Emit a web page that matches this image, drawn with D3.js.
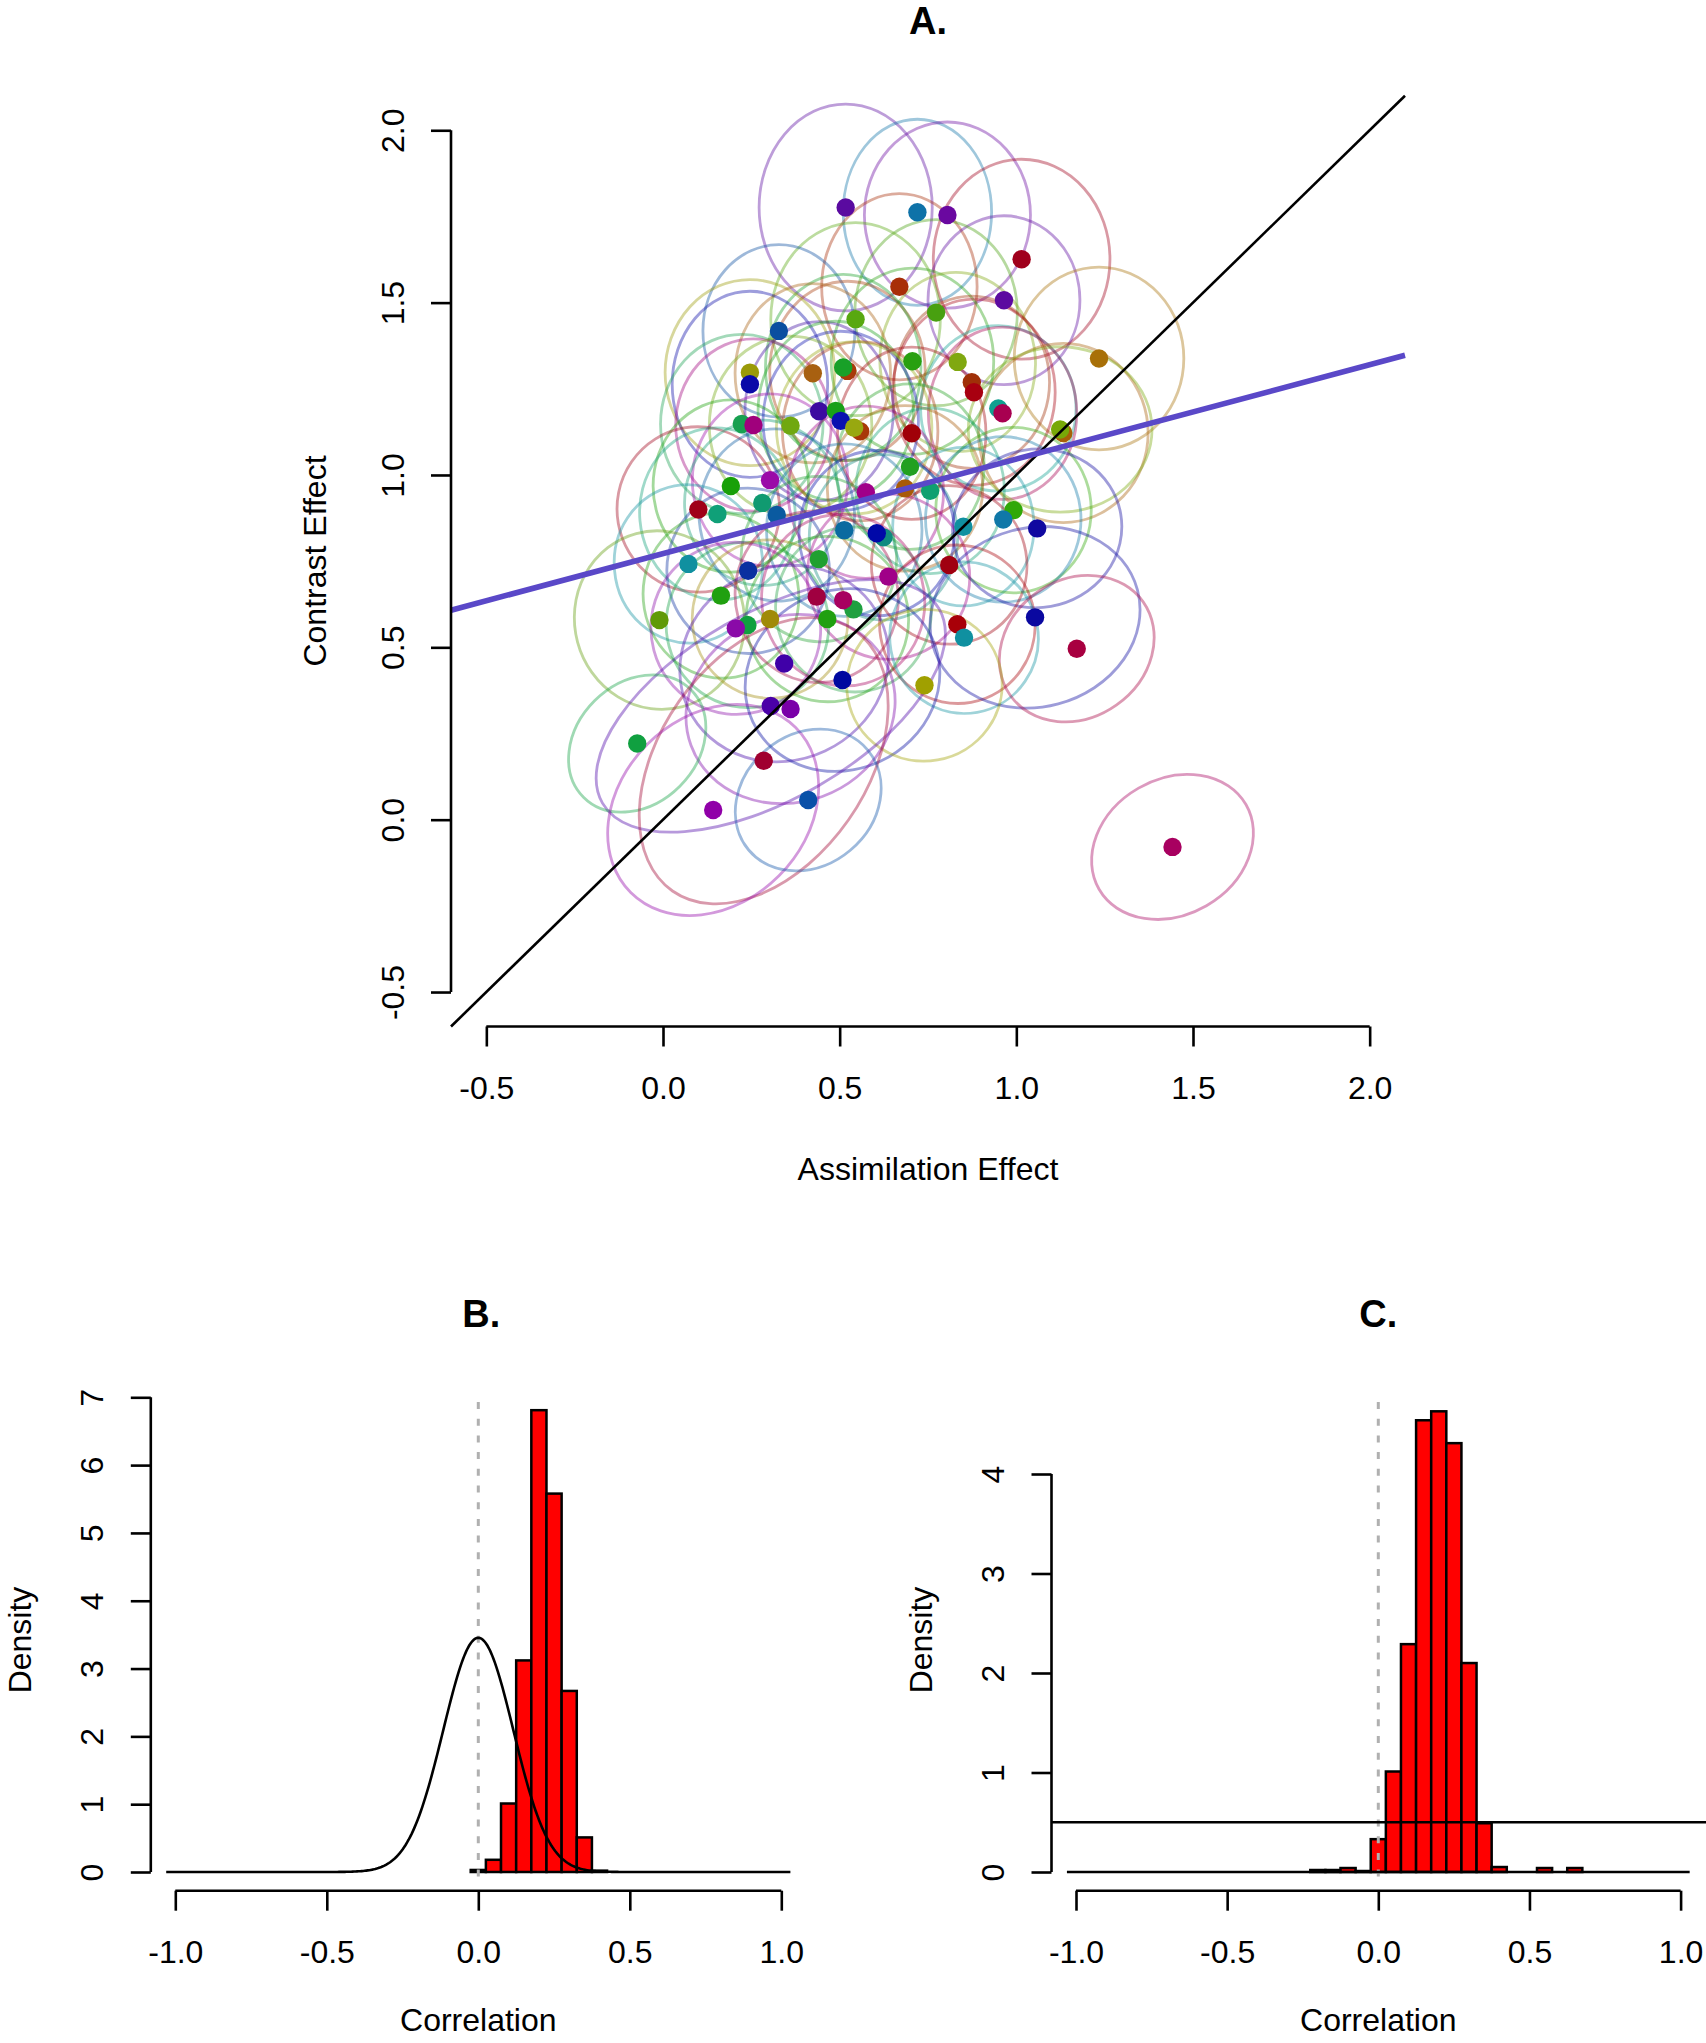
<!DOCTYPE html>
<html><head><meta charset="utf-8">
<script src="https://cdn.jsdelivr.net/npm/d3@7"></script>
<style>
body{margin:0;background:#fff}
svg{display:block}
text{font-family:"Liberation Sans",Arial,Helvetica,sans-serif;fill:#000}
</style>
</head><body>
<svg id="chart" width="1706" height="2043"></svg>
<script>
// ---------------- Panel A data ----------------
const assimilation = [0.517,0.720,0.805,1.015,0.669,0.965,0.773,0.545,0.328,0.706,0.834,1.234,0.522,0.510,0.246,0.424,0.246,0.874,0.880,0.949,0.961,0.442,0.489,0.503,0.223,0.256,0.361,0.558,0.541,0.704,1.133,1.124,0.699,0.192,0.303,0.574,0.685,0.756,0.100,0.154,0.281,0.322,0.513,0.624,0.605,0.850,0.992,0.963,1.059,0.072,0.241,0.441,0.638,0.810,0.164,-0.010,0.239,0.206,0.303,0.435,0.539,0.510,0.465,0.833,0.852,1.053,1.171,0.343,0.508,0.740,0.305,0.361,-0.073,0.285,0.142,0.411,1.442];
const contrast = [1.776,1.762,1.754,1.626,1.546,1.507,1.471,1.452,1.418,1.330,1.328,1.338,1.302,1.312,1.297,1.295,1.263,1.269,1.240,1.193,1.179,1.185,1.186,1.157,1.148,1.145,1.143,1.127,1.137,1.121,1.122,1.132,1.024,0.968,0.985,0.950,0.961,0.954,0.900,0.887,0.919,0.884,0.840,0.819,0.831,0.850,0.898,0.871,0.845,0.742,0.722,0.756,0.705,0.739,0.650,0.579,0.565,0.555,0.582,0.647,0.610,0.637,0.582,0.567,0.528,0.587,0.496,0.453,0.405,0.390,0.330,0.321,0.221,0.171,0.028,0.057,-0.079];
const pointColors = ["#5a0aa0","#0e72a8","#6a08a0","#a0001c","#a82e08","#5c0aa0","#48a010","#58a810","#0a4ea0","#28a010","#80a810","#a87008","#a83a08","#18a028","#9a9a08","#a86010","#0a0aa8","#a03008","#a80010","#10a090","#a80050","#3c0aa0","#18a018","#0a10b0","#18a050","#a0007c","#70a810","#a83808","#98a810","#a00008","#a86008","#78a808","#22a020","#18a008","#9a0aa8","#a0008a","#a85a08","#10a070","#a00018","#10a078","#109a70","#0a5aa0","#0a6aa0","#108a80","#0008a8","#1090a0","#30a808","#1078a8","#1008a0","#1090a0","#0a30a0","#20a030","#a00088","#a00010","#20a010","#609a08","#10a040","#8a0aa8","#a08a08","#a00040","#20a040","#a80060","#20a010","#a80008","#1090a0","#0a08a0","#a80040","#4000a8","#0008a0","#a0a000","#4a00a8","#7a00a8","#10a040","#a00030","#9000a8","#0a50a8","#a80060"];
// credible ellipses: semi-axes (data units) and tilt (degrees)
const ellipseA = [.245,.21,.235,.25,.22,.215,.23,.24,.215,.23,.22,.24,.22,.22,.24,.22,.22,.22,.23,.22,.21,.21,.22,.22,.23,.22,.23,.22,.22,.21,.24,.26,.21,.22,.22,.22,.22,.21,.23,.22,.22,.22,.22,.21,.22,.20,.22,.22,.24,.21,.23,.22,.23,.22,.22,.24,.23,.24,.22,.23,.22,.23,.23,.22,.21,.30,.23,.30,.28,.22,.55,.30,.215,.45,.33,.22,.24];
const ellipseB = [.30,.27,.27,.29,.27,.245,.27,.28,.25,.27,.26,.265,.26,.27,.27,.26,.27,.25,.27,.24,.25,.26,.26,.26,.26,.25,.26,.26,.25,.25,.26,.24,.24,.25,.25,.25,.24,.24,.24,.25,.24,.25,.25,.24,.24,.23,.24,.24,.23,.23,.24,.24,.24,.23,.24,.26,.24,.25,.23,.25,.24,.25,.24,.23,.22,.26,.20,.28,.26,.22,.27,.27,.175,.30,.27,.19,.197];
const ellipseAngle = [0,0,0,0,0,0,0,0,0,0,5,0,0,0,0,0,0,0,0,0,0,0,0,0,0,0,0,0,0,0,0,0,0,0,0,0,0,0,10,5,0,5,0,0,0,0,0,0,10,5,10,5,10,10,10,15,10,15,10,15,10,15,10,10,10,15,35,25,25,10,30,20,45,55,45,40,30];
const regressionIntercept = 0.772, regressionSlope = 0.274;
const ticksA = [-0.5, 0.0, 0.5, 1.0, 1.5, 2.0];

// ---------------- Panel B data ----------------
const binCentersB = [0.00,0.05,0.10,0.15,0.20,0.25,0.30,0.35,0.40];
const densityB    = [0.03,0.18,1.01,3.12,6.81,5.58,2.67,0.51,0.02];
const priorMeanB = 0, priorSdB = 0.1155;   // normal prior curve
const xTicksBC = [-1.0,-0.5,0.0,0.5,1.0];
const yTicksB = [0,1,2,3,4,5,6,7];

// ---------------- Panel C data ----------------
const binCentersC = [-0.20,-0.15,-0.10,-0.05,0.00,0.05,0.10,0.15,0.20,0.25,0.30,0.35,0.40,0.55,0.65];
const densityC    = [0.02,0.02,0.04,0.01,0.33,1.01,2.29,4.54,4.63,4.31,2.10,0.49,0.05,0.04,0.04];
const uniformPriorC = 0.5;
const yTicksC = [0,1,2,3,4];
const binWidth = 0.05;

// ---------------- drawing ----------------
const svg = d3.select('#chart');
const FS = 32;

function styleAxis(gg){
  gg.attr('font-family', null).attr('font-size', null);
  gg.selectAll('.tick line').attr('stroke','#000').attr('stroke-width',2.6);
  gg.selectAll('.tick text').attr('font-size',FS);
}
function bottomAxis(scale, ticks, y, fmt){
  const ax = d3.axisBottom(scale).tickValues(ticks).tickFormat(fmt).tickSize(20).tickSizeOuter(0);
  const gg = svg.append('g').attr('transform',`translate(0,${y})`).call(ax);
  styleAxis(gg);
  gg.select('.domain').attr('d',`M${scale(ticks[0])},0H${scale(ticks[ticks.length-1])}`)
    .attr('stroke','#000').attr('stroke-width',2.6).attr('fill','none');
  gg.selectAll('.tick text').attr('y',61).attr('dy','0.36em');
}
function leftAxis(scale, ticks, x, fmt){
  const ax = d3.axisLeft(scale).tickValues(ticks).tickFormat(fmt).tickSize(20).tickSizeOuter(0);
  const gg = svg.append('g').attr('transform',`translate(${x},0)`).call(ax);
  styleAxis(gg);
  gg.select('.domain').attr('d',`M0,${scale(ticks[0])}V${scale(ticks[ticks.length-1])}`)
    .attr('stroke','#000').attr('stroke-width',2.6).attr('fill','none');
  gg.selectAll('.tick text').attr('x',null).attr('y',null).attr('dy','0.36em')
    .attr('text-anchor','middle').attr('transform','translate(-59,0) rotate(-90)');
}
function label(x,y,txt,opts={}){
  const t = svg.append('text').attr('x',x).attr('y',y).attr('text-anchor','middle')
    .attr('dy','0.36em').attr('font-size',opts.size||FS).text(txt);
  if(opts.bold) t.attr('font-weight','bold');
  if(opts.rotate) t.attr('transform',`rotate(-90,${x},${y})`);
  return t;
}
const f1 = d => d.toFixed(1);
const f0 = d => String(d);

// ===== Panel A =====
const xA = d3.scaleLinear().domain([-0.6,2.1]).range([451,1405]);
const yA = d3.scaleLinear().domain([-0.6,2.1]).range([1026.5,95.8]);
const pxPerX = xA(1)-xA(0), pxPerY = yA(0)-yA(1);

const gE = svg.append('g');
assimilation.forEach((x,i)=>{
  gE.append('ellipse')
    .attr('transform',`translate(${xA(x)},${yA(contrast[i])}) rotate(${-ellipseAngle[i]})`)
    .attr('rx', ellipseA[i]*pxPerX).attr('ry', ellipseB[i]*pxPerY)
    .attr('fill','none').attr('stroke',pointColors[i]).attr('stroke-opacity',0.4).attr('stroke-width',2.8);
});
const gP = svg.append('g');
assimilation.forEach((x,i)=>{
  gP.append('circle').attr('cx',xA(x)).attr('cy',yA(contrast[i])).attr('r',9.2).attr('fill',pointColors[i]);
});
const lineA = d3.line().x(d=>xA(d[0])).y(d=>yA(d[1]));
svg.append('path').attr('d',lineA([[-0.6,-0.6],[2.1,2.1]])).attr('stroke','#000').attr('stroke-width',2.6).attr('fill','none');
svg.append('path').attr('d',lineA([[-0.6,regressionIntercept+regressionSlope*-0.6],[2.1,regressionIntercept+regressionSlope*2.1]]))
  .attr('stroke','#5a48c8').attr('stroke-width',5.6).attr('fill','none');

bottomAxis(xA, ticksA, 1026.5, f1);
leftAxis(yA, ticksA, 451, f1);
label(928, 20, 'A.', {size:38, bold:true});
label(928, 1168, 'Assimilation Effect');
label(314, 561, 'Contrast Effect', {rotate:true});

// ===== Histogram panels =====
function histPanel(opt){
  const x = d3.scaleLinear().domain([-1,1]).range(opt.xr);
  const y = d3.scaleLinear().domain([0, opt.yTicks[opt.yTicks.length-1]]).range([1872, opt.yTop]);
  const axisX = opt.xr[0]-24.5;
  svg.append('g').selectAll('rect').data(opt.centers).join('rect')
    .attr('x', c=>x(c-binWidth/2)).attr('width', c=>x(c+binWidth/2)-x(c-binWidth/2))
    .attr('y', (c,i)=>y(opt.dens[i])).attr('height',(c,i)=>y(0)-y(opt.dens[i]))
    .attr('fill','#ff0000').attr('stroke','#000').attr('stroke-width',2.5);
  svg.append('line').attr('x1',x(0)).attr('x2',x(0)).attr('y1',1402).attr('y2',1877)
    .attr('stroke','#b0b0b0').attr('stroke-width',3).attr('stroke-dasharray','7,9.7');
  opt.extra(x,y,axisX);
  bottomAxis(x, xTicksBC, 1890.7, f1);
  leftAxis(y, opt.yTicks, axisX, f0);
  label(x(0)+opt.titleDx, 1313, opt.title, {size:38, bold:true});
  label(x(0), 2019, 'Correlation');
  label(axisX-131, 1640, 'Density', {rotate:true});
}

histPanel({xr:[175.3,781.3], yTicks:yTicksB, yTop:1397.3, centers:binCentersB, dens:densityB, title:'B.', titleDx:3,
  extra:(x,y)=>{
    const xs = d3.range(-1.03, 1.0301, 0.005);
    const dn = v => Math.exp(-0.5*((v-priorMeanB)/priorSdB)**2)/(priorSdB*Math.sqrt(2*Math.PI));
    svg.append('path').attr('d', d3.line().x(v=>x(v)).y(v=>y(dn(v)))(xs))
      .attr('fill','none').attr('stroke','#000').attr('stroke-width',2.6);
  }});

histPanel({xr:[1076,1680.6], yTicks:yTicksC, yTop:1474, centers:binCentersC, dens:densityC, title:'C.', titleDx:0,
  extra:(x,y,axisX)=>{
    svg.append('line').attr('x1',x(-1.03)).attr('x2',x(1.03)).attr('y1',y(0)).attr('y2',y(0))
      .attr('stroke','#000').attr('stroke-width',2.6);
    svg.append('line').attr('x1',axisX).attr('x2',1706).attr('y1',y(uniformPriorC)).attr('y2',y(uniformPriorC))
      .attr('stroke','#000').attr('stroke-width',2.6);
  }});
</script>
</body></html>
